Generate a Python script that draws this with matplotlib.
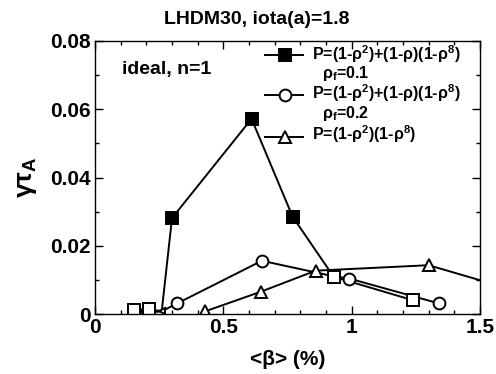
import numpy as np
import matplotlib
matplotlib.use('Agg')
import matplotlib.pyplot as plt

plt.rcParams['font.family'] = ['Liberation Sans', 'DejaVu Sans']
plt.rcParams['font.weight'] = 'bold'
plt.rcParams['mathtext.fontset'] = 'custom'
plt.rcParams['mathtext.rm'] = 'Liberation Sans:bold'
plt.rcParams['mathtext.it'] = 'Liberation Sans:bold'
plt.rcParams['mathtext.bf'] = 'Liberation Sans:bold'

# серия 1: P=(1-rho^2)+(1-rho)(1-rho^8), rho_f=0.1 (квадраты)
beta_sq = [0.15, 0.21, 0.26, 0.30, 0.61, 0.77, 0.93, 1.24]
gamma_sq = [0.0012, 0.0014, 0.0008, 0.0281, 0.0572, 0.0285, 0.0109, 0.0040]
filled_sq = [False, False, None, True, True, True, False, False]

# серия 2: rho_f=0.2 (кружки)
beta_ci = [0.16, 0.26, 0.32, 0.65, 0.92, 0.99, 1.34]
gamma_ci = [0.0000, 0.0008, 0.0031, 0.0156, 0.0112, 0.0104, 0.0031]
show_ci = [True, False, True, True, False, True, True]

# серия 3: P=(1-rho^2)(1-rho^8) (треугольники)
beta_tr = [0.43, 0.645, 0.86, 1.30, 1.55]
gamma_tr = [0.0008, 0.0065, 0.0127, 0.0143, 0.0088]
show_tr = [True, True, True, True, False]

# маленький треугольник у основания
beta_small = [0.26]
gamma_small = [0.0008]

labels = ['P=(1-ρ$^2$)+(1-ρ)(1-ρ$^8$)', 'P=(1-ρ$^2$)+(1-ρ)(1-ρ$^8$)', 'P=(1-ρ$^2$)(1-ρ$^8$)']
sublabels = ['ρ$_f$=0.1', 'ρ$_f$=0.2', None]

fig = plt.figure(figsize=(4.96, 3.74), dpi=100)
ax = fig.add_axes([95/496, 1 - 314/374, 385/496, 273/374])

lw = 1.4
ms = 8.5

ax.plot(beta_tr, gamma_tr, '-', color='black', lw=lw)
ax.plot(beta_ci, gamma_ci, '-', color='black', lw=lw)
ax.plot(beta_sq, gamma_sq, '-', color='black', lw=lw)

ax.plot([b for b, s in zip(beta_tr, show_tr) if s], [g for g, s in zip(gamma_tr, show_tr) if s],
        '^', ms=ms, mfc='white', mec='black', mew=lw)
ax.plot(beta_small, gamma_small, '<', ms=5, mfc='white', mec='black', mew=lw)
ax.plot([b for b, s in zip(beta_ci, show_ci) if s], [g for g, s in zip(gamma_ci, show_ci) if s],
        'o', ms=ms, mfc='white', mec='black', mew=lw)
ax.plot([b for b, f in zip(beta_sq, filled_sq) if f is False], [g for g, f in zip(gamma_sq, filled_sq) if f is False],
        's', ms=ms, mfc='white', mec='black', mew=lw)
ax.plot([b for b, f in zip(beta_sq, filled_sq) if f], [g for g, f in zip(gamma_sq, filled_sq) if f],
        's', ms=ms, mfc='black', mec='black', mew=lw)

ax.set_xlim(0, 1.5)
ax.set_ylim(0, 0.08)
ax.set_xticks([0, 0.5, 1, 1.5])
ax.set_xticklabels(['0', '0.5', '1', '1.5'])
ax.set_yticks([0, 0.02, 0.04, 0.06, 0.08])
ax.set_yticklabels(['0', '0.02', '0.04', '0.06', '0.08'])
ax.set_xticks(np.arange(0, 1.51, 0.1), minor=True)
ax.set_yticks(np.arange(0, 0.081, 0.01), minor=True)
ax.tick_params(which='both', direction='in', top=True, right=True, width=1.0)
ax.tick_params(which='major', length=6, labelsize=15, pad=3)
ax.tick_params(which='minor', length=3)
for sp in ax.spines.values():
    sp.set_linewidth(1.0)

ax.set_xlabel('<β> (%)', fontsize=15, fontweight='bold', labelpad=9)
ax.set_ylabel('γτ$_A$', fontsize=19, fontweight='bold', labelpad=8)

fig.text(257/496, 1 - 20/374, 'LHDM30, iota(a)=1.8', ha='center', va='center', fontsize=14, fontweight='bold')
ax.text(0.07, 0.88, 'ideal, n=1', transform=ax.transAxes, fontsize=14, fontweight='bold')

# легенда вручную (в координатах осей)
handle_y = [0.949, 0.802, 0.648]
row_y = [0.932, 0.786, 0.637]
sub_y = [0.864, 0.718]
styles = [dict(marker='s', mfc='black'), dict(marker='o', mfc='white'), dict(marker='^', mfc='white')]
for i in range(3):
    ax.plot([0.442, 0.540], [handle_y[i], handle_y[i]], '-', color='black', lw=lw,
            transform=ax.transAxes, clip_on=False)
    ax.plot([0.4935], [handle_y[i]], linestyle='none', ms=ms, mec='black', mew=lw,
            transform=ax.transAxes, clip_on=False, **styles[i])
    ax.text(0.563, row_y[i], labels[i], transform=ax.transAxes, fontsize=11.5,
            fontweight='bold', va='baseline', ha='left')
    if sublabels[i]:
        ax.text(0.590, sub_y[i], sublabels[i], transform=ax.transAxes, fontsize=11.5,
                fontweight='bold', va='baseline', ha='left')

fig.savefig('out.png', dpi=100)
